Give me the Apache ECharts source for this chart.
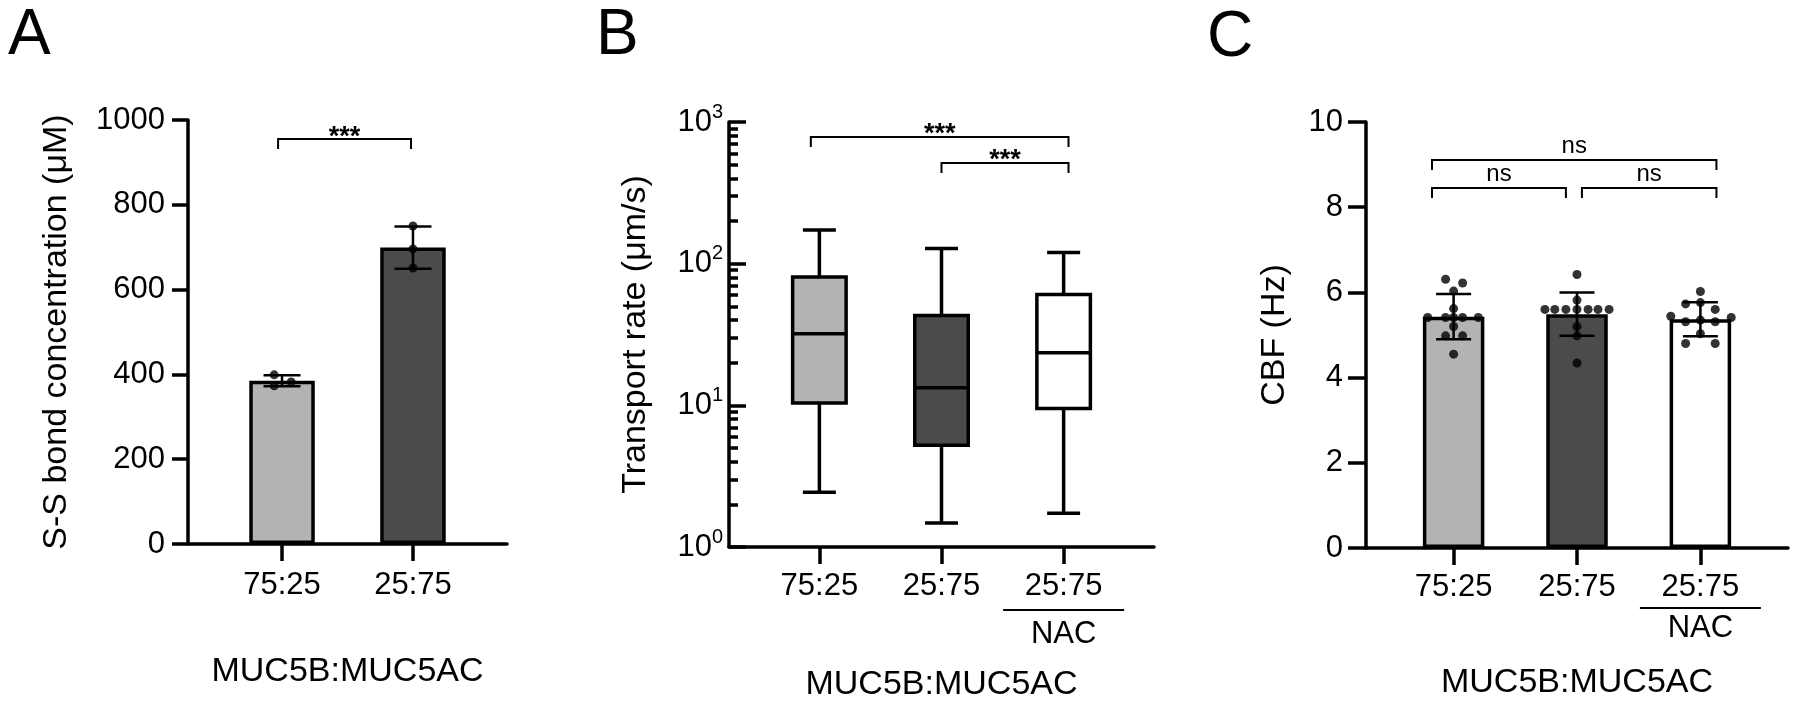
<!DOCTYPE html>
<html>
<head>
<meta charset="utf-8">
<script src="https://cdn.jsdelivr.net/npm/echarts@6/dist/echarts.min.js"></script>
<style>
html,body{margin:0;padding:0;background:#fff;}
#chart{width:1800px;height:707px;}
</style>
</head>
<body>
<div id="chart"></div>
<script>
// ---------- Panel A: S-S bond concentration ----------
const catsA = ['75:25', '25:75'];
const meanA = [385, 699];
const sdA = [13, 50];
const dotsA = [[399, 373, 382], [750, 696, 651]];
const jitterA = [[-0.06, -0.06, 0.07], [0, 0, 0]];
const bracketsA = [[-0.03, 0.985, 955]];
const bracketLabelsA = ['***'];

// ---------- Panel B: Transport rate (box plots: min, Q1, median, Q3, max) ----------
const catsB = ['75:25', '25:75', '25:75'];
const treatB = ['', '', 'NAC'];
const boxB = [
  [2.43, 10.4, 32.0, 80.6, 173],
  [1.48, 5.23, 13.3, 43.0, 128],
  [1.73, 9.48, 23.5, 60.5, 120]
];
const bracketsB = [[-0.07, 2.04, 784], [1.0, 2.04, 514]];
const bracketLabelsB = ['***', '***'];
const logMinorTicks = [2,3,4,5,6,7,8,9,20,30,40,50,60,70,80,90,200,300,400,500,600,700,800,900];

// ---------- Panel C: CBF ----------
const catsC = ['75:25', '25:75', '25:75'];
const treatC = ['', '', 'NAC'];
const meanC = [5.43, 5.49, 5.37];
const sdC = [0.53, 0.51, 0.40];
const dotsC = [
  [6.31, 6.22, 6.03, 5.62, 5.41, 5.41, 5.41, 5.41, 5.41, 5.20, 4.98, 4.98, 4.55],
  [6.42, 5.82, 5.60, 5.60, 5.60, 5.60, 5.60, 5.60, 5.60, 5.20, 4.98, 4.34],
  [6.02, 5.73, 5.76, 5.60, 5.44, 5.41, 5.31, 5.35, 5.31, 5.03, 4.80, 4.80]
];
const jitterC = [
  [-0.065, 0.073, 0, 0, -0.21, -0.065, 0, 0.073, 0.2, 0, -0.065, 0.073, 0],
  [0, 0, -0.26, -0.18, -0.09, 0, 0.09, 0.17, 0.26, 0, 0, 0],
  [0, -0.12, 0, 0.12, -0.24, 0.25, -0.12, 0, 0.12, 0, -0.12, 0.12]
];
const bracketsC = [[-0.175, 2.13, 9.11], [-0.175, 0.91, 8.45], [1.04, 2.13, 8.45]];
const bracketLabelsC = ['ns', 'ns', 'ns'];

const fills = ['#b3b3b3', '#4b4b4b', '#ffffff'];
const FONT = '"Liberation Sans", Arial, Helvetica, sans-serif';

// ---------- helpers ----------
function errorBarSeries(xi, yi, means, sds, cap) {
  return {
    type: 'custom', xAxisIndex: xi, yAxisIndex: yi, z: 4,
    data: means.map((m, i) => [i, m, sds[i]]),
    encode: { x: 0, y: 1 },
    renderItem: function (params, api) {
      const x = api.value(0), m = api.value(1), s = api.value(2);
      const t = api.coord([x, m + s]), b = api.coord([x, m - s]);
      const st = { stroke: '#000', lineWidth: 2.5 };
      return { type: 'group', children: [
        { type: 'line', shape: { x1: t[0], y1: t[1], x2: b[0], y2: b[1] }, style: st },
        { type: 'line', shape: { x1: t[0] - cap / 2, y1: t[1], x2: t[0] + cap / 2, y2: t[1] }, style: st },
        { type: 'line', shape: { x1: b[0] - cap / 2, y1: b[1], x2: b[0] + cap / 2, y2: b[1] }, style: st }
      ]};
    }
  };
}
function dotSeries(xi, yi, dots, jit) {
  const data = [];
  dots.forEach((arr, i) => arr.forEach((v, k) => data.push([i + jit[i][k], v])));
  return { type: 'scatter', xAxisIndex: xi, yAxisIndex: yi, z: 5, symbol: 'circle', symbolSize: 9,
    itemStyle: { color: '#000' }, data: data };
}
function bracketSeries(xi, yi, brackets, labels, font, textGap) {
  return {
    type: 'custom', xAxisIndex: xi, yAxisIndex: yi, z: 6, clip: false,
    data: brackets,
    encode: { x: [0, 1], y: 2 },
    renderItem: function (params, api) {
      const a = api.coord([api.value(0), api.value(2)]);
      const b = api.coord([api.value(1), api.value(2)]);
      const leg = 10;
      return { type: 'group', children: [
        { type: 'polyline', shape: { points: [[a[0], a[1] + leg], [a[0], a[1]], [b[0], b[1]], [b[0], b[1] + leg]] },
          style: { stroke: '#000', lineWidth: 2, fill: null } },
        { type: 'text', style: { text: labels[params.dataIndex], x: (a[0] + b[0]) / 2, y: a[1] - textGap,
          align: 'center', verticalAlign: 'middle', font: font + ' ' + FONT, fill: '#000' } }
      ]};
    }
  };
}
function catLabel(cats, treat) {
  return function (v) {
    const i = Math.round(v);
    if (treat && treat[i]) return '{c|' + cats[i] + '}\n{hr| }\n{n|' + treat[i] + '}';
    return '{c|' + cats[i] + '}';
  };
}
function xAxisBase(grid, min, max, cats, treat, margin, nameGap, hrLH, nLH) {
  const ticks = cats.map((c, i) => i);
  return {
    type: 'value', gridIndex: grid, min: min, max: max,
    name: 'MUC5B:MUC5AC', nameLocation: 'middle', nameGap: nameGap,
    nameTextStyle: { fontSize: 34, fontFamily: FONT, color: '#000', verticalAlign: 'middle' },
    splitLine: { show: false },
    axisLine: { show: true, onZero: false, lineStyle: { color: '#000', width: 3.5 } },
    axisTick: { show: true, customValues: ticks, length: 17, lineStyle: { color: '#000', width: 3.5 } },
    axisLabel: { show: true, customValues: ticks, margin: margin, formatter: catLabel(cats, treat),
      verticalAlign: 'top',
      rich: {
        c: { fontSize: 31, lineHeight: 32, fontFamily: FONT, color: '#000' },
        hr: { width: 121, height: 2, backgroundColor: '#000', lineHeight: hrLH, fontSize: 2 },
        n: { fontSize: 31, lineHeight: nLH, fontFamily: FONT, color: '#000' }
      } }
  };
}
function plainNum(v) { return String(v); }

const option = {
  animation: false,
  backgroundColor: '#fff',
  grid: [
    { left: 188, top: 120, width: 319, height: 424 },
    { left: 729, top: 122, width: 425, height: 426 },
    { left: 1366, top: 122, width: 422, height: 426 }
  ],
  xAxis: [
    xAxisBase(0, -0.718, 1.718, catsA, null, 25, 128, 16, 32),
    xAxisBase(1, -0.74, 2.74, catsB, treatB, 23, 138, 16, 32),
    xAxisBase(2, -0.71, 2.71, catsC, treatC, 23, 135, 10, 30)
  ],
  yAxis: [
    { type: 'value', gridIndex: 0, min: 0, max: 1000, interval: 200,
      name: 'S-S bond concentration (\u03bcM)', nameLocation: 'middle', nameGap: 131,
      nameTextStyle: { fontSize: 34, fontFamily: FONT, color: '#000', verticalAlign: 'middle' },
      splitLine: { show: false },
      axisLine: { show: true, onZero: false, lineStyle: { color: '#000', width: 3.5 } },
      axisTick: { show: true, length: 16, lineStyle: { color: '#000', width: 3.5 } },
      axisLabel: { fontSize: 31, fontFamily: FONT, color: '#000', margin: 23, formatter: plainNum } },
    { type: 'log', logBase: 10, gridIndex: 1, min: 1, max: 1000,
      name: 'Transport rate (\u03bcm/s)', nameLocation: 'middle', nameGap: 93,
      nameTextStyle: { fontSize: 34, fontFamily: FONT, color: '#000', verticalAlign: 'middle' },
      splitLine: { show: false },
      axisLine: { show: true, onZero: false, lineStyle: { color: '#000', width: 3.5 } },
      axisTick: { show: true, inside: true, length: 17, lineStyle: { color: '#000', width: 3.5 } },
      axisLabel: { margin: 6, formatter: function (v) { return '{b|10}{s|' + Math.round(Math.log10(v)) + '}'; },
        rich: { b: { fontSize: 31, fontFamily: FONT, color: '#000' },
                s: { fontSize: 20, fontFamily: FONT, color: '#000', padding: [0, 0, 20, 0] } } } },
    { type: 'value', gridIndex: 1, min: 0, max: 3, position: 'left',
      splitLine: { show: false }, axisLine: { show: false, onZero: false }, axisLabel: { show: false },
      axisTick: { show: true, inside: true, length: 9, customValues: logMinorTicks.map(v => Math.log10(v)),
        lineStyle: { color: '#000', width: 3.5 } } },
    { type: 'value', gridIndex: 2, min: 0, max: 10, interval: 2,
      name: 'CBF (Hz)', nameLocation: 'middle', nameGap: 91,
      nameTextStyle: { fontSize: 34, fontFamily: FONT, color: '#000', verticalAlign: 'middle' },
      splitLine: { show: false },
      axisLine: { show: true, onZero: false, lineStyle: { color: '#000', width: 3.5 } },
      axisTick: { show: true, length: 18, lineStyle: { color: '#000', width: 3.5 } },
      axisLabel: { fontSize: 31, fontFamily: FONT, color: '#000', margin: 23, formatter: plainNum } }
  ],
  graphic: [
    { type: 'text', x: 8, y: 36, style: { text: 'A', font: '64px ' + FONT, fill: '#000', align: 'left', verticalAlign: 'middle' } },
    { type: 'text', x: 596, y: 36, style: { text: 'B', font: '64px ' + FONT, fill: '#000', align: 'left', verticalAlign: 'middle' } },
    { type: 'text', x: 1207, y: 38, style: { text: 'C', font: '64px ' + FONT, fill: '#000', align: 'left', verticalAlign: 'middle' } }
  ],
  series: [
    // Panel A
    { type: 'bar', xAxisIndex: 0, yAxisIndex: 0, barWidth: 65.5, z: 3,
      data: meanA.map((m, i) => ({ value: [i, m], itemStyle: { color: fills[i] } })),
      itemStyle: { borderColor: '#000', borderWidth: 3.5 } },
    errorBarSeries(0, 0, meanA, sdA, 37),
    dotSeries(0, 0, dotsA, jitterA),
    bracketSeries(0, 0, bracketsA, bracketLabelsA, 'bold 27px', 2),
    // Panel B
    { type: 'custom', xAxisIndex: 1, yAxisIndex: 1, z: 3,
      data: boxB.map((b, i) => [i].concat(b)),
      encode: { x: 0, y: [1, 2, 3, 4, 5] },
      renderItem: function (params, api) {
        const x = api.value(0);
        const pMin = api.coord([x, api.value(1)]);
        const pQ1 = api.coord([x, api.value(2)]);
        const pMed = api.coord([x, api.value(3)]);
        const pQ3 = api.coord([x, api.value(4)]);
        const pMax = api.coord([x, api.value(5)]);
        const cx = pMin[0], hw = 26.75, cap = 33;
        const st = { stroke: '#000', lineWidth: 3.5 };
        return { type: 'group', children: [
          { type: 'line', shape: { x1: cx, y1: pMax[1], x2: cx, y2: pQ3[1] }, style: st },
          { type: 'line', shape: { x1: cx, y1: pQ1[1], x2: cx, y2: pMin[1] }, style: st },
          { type: 'line', shape: { x1: cx - cap / 2, y1: pMax[1], x2: cx + cap / 2, y2: pMax[1] }, style: st },
          { type: 'line', shape: { x1: cx - cap / 2, y1: pMin[1], x2: cx + cap / 2, y2: pMin[1] }, style: st },
          { type: 'rect', shape: { x: cx - hw, y: pQ3[1], width: 2 * hw, height: pQ1[1] - pQ3[1] },
            style: { fill: fills[params.dataIndex], stroke: '#000', lineWidth: 3.5 } },
          { type: 'line', shape: { x1: cx - hw, y1: pMed[1], x2: cx + hw, y2: pMed[1] }, style: st }
        ]};
      } },
    bracketSeries(1, 1, bracketsB, bracketLabelsB, 'bold 27px', 2),
    // Panel C
    { type: 'bar', xAxisIndex: 2, yAxisIndex: 3, barWidth: 61.5, z: 3,
      data: meanC.map((m, i) => ({ value: [i, m], itemStyle: { color: fills[i] } })),
      itemStyle: { borderColor: '#000', borderWidth: 3.5 } },
    errorBarSeries(2, 3, meanC, sdC, 35),
    dotSeries(2, 3, dotsC, jitterC),
    bracketSeries(2, 3, bracketsC, bracketLabelsC, '24px', 14)
  ]
};

const chart = echarts.init(document.getElementById('chart'), null, { renderer: 'canvas' });
chart.setOption(option);
</script>
</body>
</html>
